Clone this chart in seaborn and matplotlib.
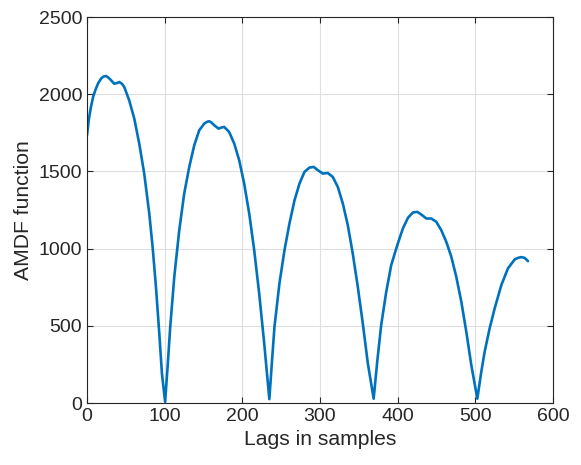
import numpy as np
import pandas as pd
import seaborn as sns
import matplotlib
matplotlib.use("Agg")
import matplotlib.pyplot as plt

# AMDF curve
lags = [0, 2.5, 5.1, 8, 11.5, 14.5, 18, 21, 24.5, 27, 30, 35, 38.5, 41.6, 45, 48,
        54.4, 60.9, 67.3, 73.7, 80.2, 84.5, 88.8, 93.1, 96.5, 100.6,
        103.8, 107.2, 112.4, 118.8, 125.2, 131.7, 138.1, 144.5, 151, 154.5, 157.4,
        160.5, 163.8, 169.4, 173, 176.7, 183.1, 189.6, 196, 202.4, 208.9, 215.3, 221.7,
        228.2, 234.8,
        238, 241.4, 247.8, 254.3, 260.7, 267.2, 273.6, 280, 286.5, 292,
        297.2, 303.6, 310, 316.5, 322.9, 329.4, 335.8, 342.2, 348.7, 355.1,
        361.6, 369.1,
        373.7, 378.8, 385.3, 391.7, 399.5, 406.7, 413.2, 419.6, 425.3,
        430.4, 436.9, 443.3, 449.8, 456.2, 462.6, 469.1, 475.5, 482, 488.4,
        494.8, 502.6,
        507.7, 512, 518.4, 524.9, 533.5, 542, 550.7, 555, 559.3, 563.5, 567.8]
amdf = [1734, 1840, 1917, 1985, 2036, 2072, 2100, 2114, 2118, 2110, 2096, 2068, 2072, 2079, 2068, 2047,
        1960, 1842, 1680, 1486, 1227, 1011, 752, 451, 192, 8,
        235, 494, 817, 1119, 1357, 1529, 1669, 1766, 1810, 1821, 1825,
        1816, 1799, 1777, 1784, 1788, 1755, 1680, 1572, 1421, 1227, 990, 710,
        386, 25,
        257, 494, 775, 990, 1163, 1313, 1421, 1497, 1525, 1529,
        1508, 1486, 1490, 1464, 1400, 1292, 1152, 968, 752, 516,
        257, 28,
        268, 505, 720, 893, 1022, 1130, 1199, 1234, 1238,
        1221, 1195, 1195, 1173, 1119, 1044, 947, 817, 655, 461,
        246, 28,
        203, 332, 483, 613, 764, 872, 930, 940, 945, 940, 919]

df = pd.DataFrame({"lag": lags, "amdf": amdf})

sns.set_theme(style="ticks")
plt.rcParams['font.family'] = ['Liberation Sans', 'DejaVu Sans']
plt.rcParams['axes.edgecolor'] = '#262626'
plt.rcParams['xtick.color'] = '#262626'
plt.rcParams['ytick.color'] = '#262626'

fig = plt.figure(figsize=(5.81, 4.65), dpi=100)
ax = fig.add_axes([0.1497, 0.1333, 0.8021, 0.8301])

sns.lineplot(data=df, x="lag", y="amdf", ax=ax, color="#0072BD",
             linewidth=1.9, sort=False)

ax.set_xlim(0, 600)
ax.set_ylim(0, 2500)
ax.set_xticks(np.arange(0, 601, 100))
ax.set_yticks(np.arange(0, 2501, 500))
ax.grid(True, color='#dfdfdf', linewidth=0.8)
ax.set_axisbelow(True)
for s in ax.spines.values():
    s.set_visible(True)
    s.set_linewidth(0.8)
ax.tick_params(direction='in', length=4, width=0.8, top=True, right=True,
               labelsize=14, colors='#262626')
ax.set_xlabel("Lags in samples", fontsize=15.2, color='#262626')
ax.set_ylabel("AMDF function", fontsize=15.2, color='#262626')

fig.savefig("out.png", dpi=100)
